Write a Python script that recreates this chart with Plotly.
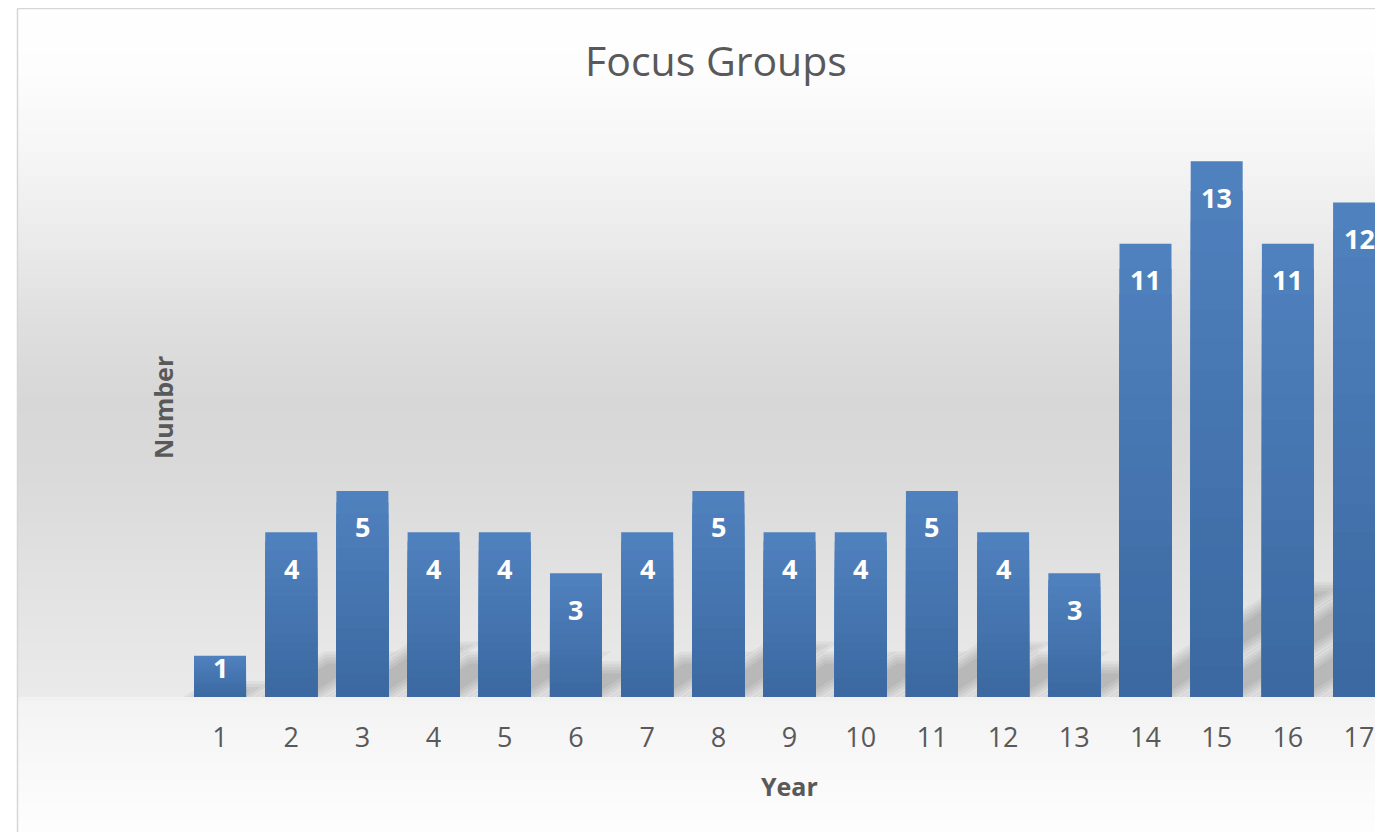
import plotly.graph_objects as go

# ---------------- data ----------------
years = ["1", "2", "3", "4", "5", "6", "7", "8", "9", "10",
         "11", "12", "13", "14", "15", "16", "17"]
counts = [1, 4, 5, 4, 4, 3, 4, 5, 4, 4, 5, 4, 3, 11, 13, 11, 12]
chart_title = "Focus Groups"
x_title = "Year"
y_title = "Number"

# ---------------- geometry / style ----------------
OFF = 8                      # page body margin
W, H = 1383 - 2 * OFF, 840 - 2 * OFF
BASE = 697                   # baseline (screen px)
PLOT_L, PLOT_T = 184, 120    # screen px
ML, MR, MT, MB = PLOT_L - OFF, 0, PLOT_T - OFF, H - (BASE - OFF)
PW = W - ML - MR
PH = H - MT - MB
Y_MAX = 14
UNIT_X = 71.19               # px per category
X0 = -0.506
X_RANGE = [X0, X0 + PW / UNIT_X]
FONT = "Open Sans"
TXT = "#595959"
BAR_W = 0.73


def pxx(px):            # screen px -> paper x
    return (px - OFF - ML) / PW


def pxy(py):            # screen px -> paper y
    return (BASE - py) / PH


def hexc(rgb):
    return "#%02x%02x%02x" % tuple(int(round(c)) for c in rgb)


def lerp(a, b, t):
    return tuple(a[i] + (b[i] - a[i]) * t for i in range(3))


fig = go.Figure()

# background vertical gradient (chart area)
bg_stops = [(0, 255), (70, 253), (150, 246), (230, 236), (320, 223),
            (400, 215), (480, 218), (580, 226), (696, 234), (700, 243),
            (760, 248), (840, 254)]
shapes = []
step = 4
for y0 in range(9, 840, step):
    yc = y0 + step / 2
    g = bg_stops[-1][1]
    for i in range(len(bg_stops) - 1):
        a, b = bg_stops[i], bg_stops[i + 1]
        if a[0] <= yc <= b[0]:
            g = a[1] + (b[1] - a[1]) * (yc - a[0]) / (b[0] - a[0])
            break
    shapes.append(dict(type="rect", xref="paper", yref="paper",
                       x0=pxx(17.5), x1=pxx(1400), y0=pxy(y0 + step + 0.5), y1=pxy(y0),
                       fillcolor=hexc((g, g, g)), line=dict(width=0), layer="below"))

# soft perspective shadows behind bars (derived from bar values)
unit_y = PH / Y_MAX
SH_C = 0.24          # vertical reach of the shadow relative to bar height
SH_K = 1 / 0.65      # horizontal run per vertical px
for i, v in enumerate(counts):
    xc = PLOT_L + (i - X_RANGE[0]) * UNIT_X
    xl, xr = xc - BAR_W * UNIT_X / 2, xc + BAR_W * UNIT_X / 2
    hpx = v * unit_y
    for d in (-6, -3, 0, 3, 6):
        rise = SH_C * hpx + d
        if rise <= 2:
            continue
        top = BASE - rise
        dx = 1.8 * d
        pts = [(xl - dx, BASE), (xr + dx, BASE), (xr + dx + SH_K * rise, top),
               (xl - dx + SH_K * rise, top)]
        path = "M " + " L ".join("%.5f,%.5f" % (pxx(px), pxy(py)) for px, py in pts) + " Z"
        shapes.append(dict(type="path", xref="paper", yref="paper", path=path,
                           fillcolor="rgba(0,0,0,0.045)", line=dict(width=0),
                           layer="below"))

# chart border (top and left visible)
bx, by = pxx(17.5), pxy(8.5)
shapes.append(dict(type="line", xref="paper", yref="paper", x0=bx, x1=bx,
                   y0=pxy(845), y1=by, line=dict(color="#d6d6d6", width=1.5)))
shapes.append(dict(type="line", xref="paper", yref="paper", x0=bx, x1=pxx(1390),
                   y0=by, y1=by, line=dict(color="#d6d6d6", width=1.5)))

# bars with vertical gradient (overlaid slices)
top_c = (80, 130, 191)
bot_c = (59, 104, 160)
N = 18
for k in range(N):
    frac = 1 - k / N
    col = hexc(lerp(top_c, bot_c, (k + 0.5) / N))
    fig.add_trace(go.Bar(x=years, y=[v * frac for v in counts],
                         marker=dict(color=col, line=dict(width=0)),
                         width=BAR_W, hoverinfo="skip", showlegend=False))

# data labels
annotations = []
for i, v in enumerate(counts):
    hpx = v * unit_y
    shift = -min(36, hpx - 30)
    annotations.append(dict(x=i, y=v, xref="x", yref="y", text="<b>%d</b>" % v,
                            showarrow=False, yshift=shift, yanchor="middle",
                            font=dict(family=FONT, size=27, color="white")))

annotations.append(dict(x=pxx(789), y=pxy(786), xref="paper", yref="paper",
                        text="<b>%s</b>" % x_title, showarrow=False,
                        xanchor="center", yanchor="middle",
                        font=dict(family=FONT, size=25, color=TXT)))
annotations.append(dict(x=pxx(163), y=pxy(408), xref="paper", yref="paper",
                        text="<b>%s</b>" % y_title, showarrow=False, textangle=-90,
                        xanchor="center", yanchor="middle",
                        font=dict(family=FONT, size=25, color=TXT)))

fig.update_layout(
    width=W, height=H,
    margin=dict(l=ML, r=MR, t=MT, b=MB, pad=0),
    barmode="overlay",
    paper_bgcolor="white",
    plot_bgcolor="rgba(0,0,0,0)",
    title=dict(text=chart_title, x=(716 - OFF) / W, xref="container", xanchor="center",
               y=1 - (62 - OFF) / H, yref="container", yanchor="middle",
               font=dict(family=FONT, size=41, color=TXT)),
    xaxis=dict(type="category", range=X_RANGE, showgrid=False, zeroline=False,
               showline=False, ticks="", ticklabelstandoff=22,
               tickfont=dict(family=FONT, size=27, color=TXT)),
    yaxis=dict(range=[0, Y_MAX], showgrid=False, zeroline=False, showline=False,
               showticklabels=False, ticks=""),
    shapes=shapes,
    annotations=annotations,
    showlegend=False,
)

fig.write_html("out.html")
